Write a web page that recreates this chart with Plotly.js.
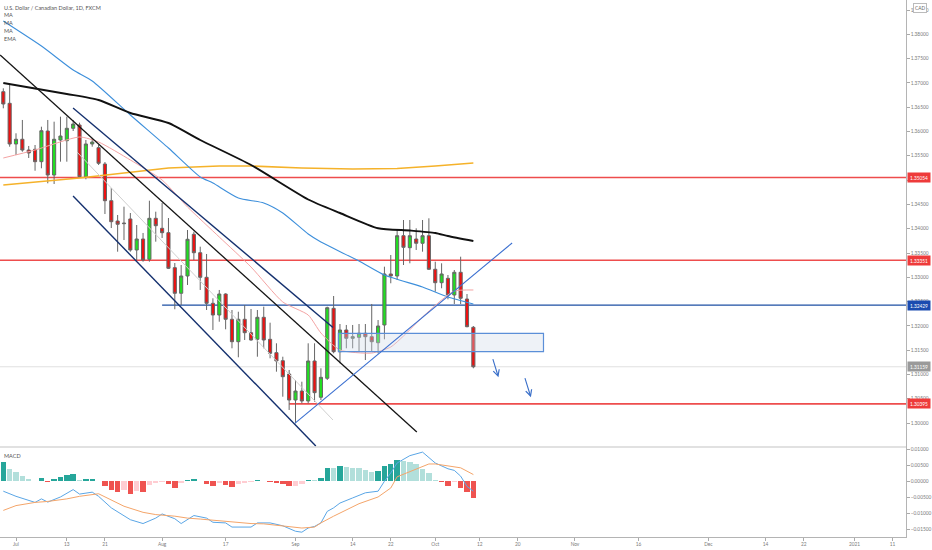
<!DOCTYPE html>
<html><head><meta charset="utf-8">
<script src="https://cdn.plot.ly/plotly-3.0.1.min.js"></script>
<style>html,body{margin:0;padding:0;background:#fff}#chart{width:932px;height:550px}</style>
</head><body><div id="chart"></div>
<script>
// ---- categories (trading days, bar 0 = 2020-06-29) ----
const dates = ['Jun 29','Jun 30','Jul 1','Jul 2','Jul 3','Jul 6','Jul 7','Jul 8','Jul 9','Jul 10','Jul 13','Jul 14','Jul 15','Jul 16','Jul 17','Jul 20','Jul 21','Jul 22','Jul 23','Jul 24','Jul 27','Jul 28','Jul 29','Jul 30','Jul 31','Aug 3','Aug 4','Aug 5','Aug 6','Aug 7','Aug 10','Aug 11','Aug 12','Aug 13','Aug 14','Aug 17','Aug 18','Aug 19','Aug 20','Aug 21','Aug 24','Aug 25','Aug 26','Aug 27','Aug 28','Aug 31','Sep 1','Sep 2','Sep 3','Sep 4','Sep 7','Sep 8','Sep 9','Sep 10','Sep 11','Sep 14','Sep 15','Sep 16','Sep 17','Sep 18','Sep 21','Sep 22','Sep 23','Sep 24','Sep 25','Sep 28','Sep 29','Sep 30','Oct 1','Oct 2','Oct 5','Oct 6','Oct 7','Oct 8','Oct 9'];

// ---- OHLC ----
const open  = [1.36819,1.36580,1.35743,1.35840,1.35619,1.35634,1.35379,1.36010,1.35105,1.35825,1.35811,1.36066,1.36134,1.35070,1.35743,1.35667,1.35331,1.34576,1.34158,1.34117,1.34200,1.33562,1.33788,1.33370,1.34214,1.34008,1.33918,1.33198,1.32671,1.33027,1.33885,1.33506,1.33000,1.32465,1.32224,1.32656,1.32136,1.31675,1.32136,1.31860,1.31724,1.32177,1.31724,1.31449,1.31284,1.31010,1.30475,1.30660,1.30455,1.31278,1.30531,1.30922,1.32362,1.31469,1.31916,1.31745,1.31765,1.31848,1.31778,1.31654,1.32019,1.33068,1.33027,1.33856,1.33609,1.33788,1.33700,1.33856,1.33165,1.32889,1.32979,1.32636,1.33103,1.32553,1.31971];
const high  = [1.36889,1.36957,1.35963,1.36237,1.35702,1.35722,1.36099,1.36237,1.36202,1.36305,1.36305,1.36237,1.36181,1.35825,1.35860,1.35722,1.35372,1.34837,1.34282,1.34453,1.34323,1.34076,1.33912,1.34576,1.34350,1.34529,1.34220,1.33294,1.33253,1.33973,1.33938,1.33630,1.33480,1.32568,1.32739,1.32671,1.32327,1.32292,1.32430,1.32348,1.32327,1.32395,1.32066,1.31642,1.31366,1.31093,1.30887,1.30852,1.31642,1.31642,1.31128,1.32395,1.32615,1.32039,1.32019,1.32019,1.32039,1.32039,1.32451,1.32121,1.33218,1.33459,1.33973,1.34179,1.34179,1.34008,1.34179,1.34214,1.33321,1.33288,1.33047,1.33150,1.33424,1.32656,1.31998];
const low   = [1.36477,1.35687,1.35516,1.35584,1.35455,1.35193,1.35243,1.34934,1.34920,1.35379,1.35379,1.36010,1.35058,1.35016,1.35687,1.35311,1.34302,1.34014,1.33527,1.33767,1.33527,1.33356,1.33321,1.33321,1.33733,1.33809,1.33170,1.32342,1.32430,1.32842,1.33356,1.32739,1.32327,1.31916,1.32086,1.31930,1.31539,1.31354,1.31710,1.31695,1.31366,1.31539,1.31333,1.31058,1.30543,1.30270,1.29996,1.30407,1.30407,1.30440,1.30475,1.30887,1.31436,1.31230,1.31539,1.31539,1.31469,1.31298,1.31469,1.31436,1.31724,1.32877,1.32944,1.33253,1.33288,1.33562,1.33527,1.33150,1.32704,1.32774,1.32547,1.32451,1.32451,1.31971,1.31128];
const close = [1.36566,1.35743,1.35840,1.35619,1.35558,1.35379,1.36016,1.35105,1.35840,1.35907,1.36066,1.36154,1.35070,1.35743,1.35784,1.35346,1.34576,1.34144,1.34091,1.34105,1.33562,1.33788,1.33356,1.34214,1.34062,1.33918,1.33185,1.32671,1.33027,1.33782,1.33506,1.33000,1.32465,1.32224,1.32656,1.32136,1.31675,1.32136,1.31860,1.31710,1.32177,1.31710,1.31436,1.31278,1.30955,1.30475,1.30660,1.30455,1.31278,1.30626,1.30942,1.32374,1.31469,1.31916,1.31745,1.31778,1.31848,1.31778,1.31675,1.31998,1.33068,1.33027,1.33856,1.33617,1.33856,1.33700,1.33856,1.33165,1.32889,1.33068,1.32636,1.33103,1.32568,1.31984,1.31159];

// ---- moving averages (sampled bar, value) ----
const maBlackBar = [0,10,15,20,26,31,39,48,53,59,64,68,70,74];
const maBlackVal = [1.36998,1.36772,1.36648,1.36381,1.36175,1.35825,1.35311,1.34601,1.34323,1.34010,1.33963,1.33912,1.33850,1.33747];
const maBlueBar = [0,6,11,14,20,26,31,33,37,41,44,48,50,56,60,66,70,74];
const maBlueVal = [1.38274,1.37759,1.37265,1.37039,1.36340,1.35660,1.35064,1.34940,1.34632,1.34529,1.34323,1.33891,1.33726,1.33335,1.33047,1.32800,1.32595,1.32451];
const maOrangeBar = [0,12,26,34,39,47,55,62,68,74];
const maOrangeVal = [1.34900,1.35043,1.35249,1.35290,1.35290,1.35249,1.35229,1.35239,1.35290,1.35352];
const emaBar = [0,5,12,15,20,25,29,34,39,44,48,50,53,58,61,63,66,69,71,74];
const emaVal = [1.35455,1.35619,1.35887,1.35784,1.35414,1.35002,1.34447,1.33829,1.33212,1.32492,1.32224,1.31854,1.31504,1.31442,1.31566,1.31792,1.32183,1.32533,1.32718,1.32739];

// ---- MACD ----
const macdHist = [0.0059,0.0039,0.0028,0.0016,0.0007,0.0002,0.0010,-0.0003,0.0006,0.0013,0.0020,0.0024,0.0005,0.0007,0.0008,0.0002,-0.0016,-0.0028,-0.0034,-0.0026,-0.0040,-0.0031,-0.0034,-0.0013,-0.0005,-0.0002,-0.0008,-0.0021,-0.0005,0.0003,0.0006,0.0001,-0.0008,-0.0016,-0.0005,-0.0013,-0.0019,-0.0008,-0.0005,-0.0002,0.0005,0.0002,-0.0002,-0.0005,-0.0008,-0.0016,-0.0014,-0.0010,0.0005,0.0003,0.0010,0.0042,0.0041,0.0047,0.0043,0.0041,0.0040,0.0036,0.0030,0.0031,0.0049,0.0053,0.0067,0.0064,0.0059,0.0054,0.0039,0.0025,0.0005,-0.0003,-0.0014,-0.0003,-0.0021,-0.0034,-0.0053];
const macdBar = [0,2,5,6,7,9,11,12,14,15,17,19,20,22,24,25,27,28,29,30,32,33,35,36,39,40,42,44,46,47,48,49,50,51,52,53,55,57,59,60,61,62,64,66,68,70,71,72,73,74];
const macdVal = [-0.0031,-0.0047,-0.0066,-0.0055,-0.0065,-0.0049,-0.0026,-0.0040,-0.0034,-0.0047,-0.0083,-0.0109,-0.0120,-0.0132,-0.0115,-0.0102,-0.0117,-0.0132,-0.0120,-0.0107,-0.0115,-0.0128,-0.0130,-0.0143,-0.0143,-0.0130,-0.0130,-0.0139,-0.0156,-0.0159,-0.0146,-0.0141,-0.0130,-0.0094,-0.0083,-0.0068,-0.0052,-0.0036,-0.0031,0.0000,0.0026,0.0057,0.0080,0.0091,0.0057,0.0039,0.0034,0.0016,-0.0016,-0.0031];
const signalBar = [0,2,5,7,10,12,15,17,19,22,24,27,29,31,34,36,39,41,44,47,49,50,52,54,56,59,61,62,65,67,68,70,72,74];
const signalVal = [-0.0091,-0.0076,-0.0066,-0.0063,-0.0055,-0.0047,-0.0039,-0.0059,-0.0078,-0.0097,-0.0104,-0.0109,-0.0115,-0.0118,-0.0123,-0.0128,-0.0132,-0.0133,-0.0139,-0.0146,-0.0143,-0.0130,-0.0109,-0.0089,-0.0070,-0.0049,-0.0021,0.0014,0.0039,0.0054,0.0054,0.0049,0.0042,0.0021];

// ---- time axis labels ----
const tickBar = [2,10,16,25,35,46,55,61,68,75,81,90,100,111,120,126,134,140];
const tickLabels = ['Jul','13','21','Aug','17','Sep','14','22','Oct','12','20','Nov','16','Dec','14','22','2021','11'];

// ---- drawings (bar, price) ----
const redLevels = [1.35054, 1.33351, 1.30395];
const redLevelStart = [null, null, 45];
const blueLevel = 1.32429, blueLevelStart = 25;
const lastPrice = 1.31159;
const blackTrend = {bar:[-0.5, 65.1], price:[1.37574, 1.29818]};
const chanUpper = {bar:[10.98, 51.9], price:[1.36484, 1.31969]};
const chanLower = {bar:[10.98, 49.2], price:[1.34673, 1.29529]};
const riseTrend = {bar:[45.94, 80.1], price:[1.30000, 1.33706]};
const grayLine = {bar:[11.6, 51.9], price:[1.35578, 1.30064]};
const zoneBars = [52.76, 85.04], zonePrices = [1.31469, 1.31848];
const arrowTail = {bar:[77.0, 82.05], price:[1.31346, 1.30955]};
const arrowHead = {bar:[77.95, 83.06], price:[1.30942, 1.30531]};

const bars = dates.map((d,i)=>i);
const XR = [-0.52, 142.11];
const PANE = 0.1676;

const histColors = macdHist.map((v,i)=>{
  const p = i>0 ? macdHist[i-1] : v+1e-9*(v>=0?-1:1);
  if (v >= 0) return v > p ? '#26a69a' : '#b2dfdb';
  return v < p ? '#ef5350' : '#ffcdd2';
});

const traces = [
  {type:'scatter', mode:'lines', x:maOrangeBar, y:maOrangeVal, line:{color:'#f5b22a', width:1.6}, hoverinfo:'skip'},
  {type:'scatter', mode:'lines', x:maBlueBar, y:maBlueVal, line:{color:'#3d8fdb', width:1.1, shape:'spline', smoothing:0.6}, hoverinfo:'skip'},
  {type:'scatter', mode:'lines', x:emaBar, y:emaVal, line:{color:'#f4a3a3', width:1, shape:'spline', smoothing:0.6}, hoverinfo:'skip'},
  {type:'scatter', mode:'lines', x:maBlackBar, y:maBlackVal, line:{color:'#111', width:1.9, shape:'spline', smoothing:0.6}, hoverinfo:'skip'},
  {type:'candlestick', x:bars, open:open, high:high, low:low, close:close,
   increasing:{line:{color:'#666', width:1}, fillcolor:'#20e020'},
   decreasing:{line:{color:'#666', width:1}, fillcolor:'#ee1111'},
   whiskerwidth:0, hoverinfo:'skip'},
  {type:'bar', x:bars, y:macdHist, xaxis:'x', yaxis:'y2', marker:{color:histColors, line:{width:0}}, width:0.85, hoverinfo:'skip'},
  {type:'scatter', mode:'lines', x:macdBar, y:macdVal, xaxis:'x', yaxis:'y2', line:{color:'#5aa6e6', width:1}, hoverinfo:'skip'},
  {type:'scatter', mode:'lines', x:signalBar, y:signalVal, xaxis:'x', yaxis:'y2', line:{color:'#f4a56a', width:1}, hoverinfo:'skip'}
];

const shapes = [];
redLevels.forEach((p,i)=>{
  shapes.push({type:'line', xref:'x', yref:'y', x0: redLevelStart[i]===null ? XR[0] : redLevelStart[i], x1: XR[1], y0:p, y1:p, line:{color:'#ee4d4d', width:1.6}, layer:'below'});
});
shapes.push({type:'line', xref:'x', yref:'y', x0:blueLevelStart, x1:XR[1], y0:blueLevel, y1:blueLevel, line:{color:'#1d4fa3', width:1.2}, layer:'below'});
shapes.push({type:'line', xref:'x', yref:'y', x0:XR[0], x1:XR[1], y0:lastPrice, y1:lastPrice, line:{color:'#e0e0e0', width:1}, layer:'below'});
shapes.push({type:'rect', xref:'x', yref:'y', x0:zoneBars[0], x1:zoneBars[1], y0:zonePrices[0], y1:zonePrices[1], fillcolor:'rgba(205,218,232,0.35)', line:{color:'#5b8fd8', width:1.2}, layer:'above'});
const seg = (o,color,w)=>shapes.push({type:'line', xref:'x', yref:'y', x0:o.bar[0], x1:o.bar[1], y0:o.price[0], y1:o.price[1], line:{color:color, width:w}});
seg(grayLine, '#cfcfcf', 1);
seg(blackTrend, '#151515', 1.3);
seg(chanUpper, '#14306e', 1.4);
seg(chanLower, '#14306e', 1.4);
seg(riseTrend, '#3a6fd0', 1.1);
// pane separator
shapes.push({type:'line', xref:'paper', yref:'paper', x0:0, x1:1, y0:PANE, y1:PANE, line:{color:'#c3c3c3', width:1.2}});

const F = 'Lato, "Open Sans", sans-serif';
const ann = [];
const priceTag = (p, bg)=>ann.push({xref:'paper', yref:'y', x:1, y:p, xanchor:'left', yanchor:'middle', xshift:1, text:p.toFixed(5), showarrow:false, bgcolor:bg, font:{family:F, size:4.8, color:'#fff'}, borderpad:1.5, width:19});
priceTag(redLevels[0], '#ee3b3b');
priceTag(redLevels[1], '#ee3b3b');
priceTag(blueLevel, '#1a4bb0');
priceTag(lastPrice, '#9a9a9a');
priceTag(redLevels[2], '#ee3b3b');
ann.push({xref:'paper', yref:'paper', x:1, y:1, xanchor:'left', yanchor:'top', xshift:7, yshift:-3, text:'CAD', showarrow:false, font:{family:F, size:4.8, color:'#666'}, bgcolor:'#fff', bordercolor:'#bbb', borderwidth:1, borderpad:1});
const legendLines = ['U.S. Dollar / Canadian Dollar, 1D, FXCM','MA','MA','MA','EMA'];
legendLines.forEach((t,i)=>ann.push({xref:'paper', yref:'paper', x:0, y:1, xanchor:'left', yanchor:'top', xshift:2, yshift:-2.5 - i*7.8, text:t, showarrow:false, font:{family:F, size:5.5, color:'#555'}}));
ann.push({xref:'paper', yref:'paper', x:0, y:PANE, xanchor:'left', yanchor:'top', xshift:2, yshift:-4.5, text:'MACD', showarrow:false, font:{family:F, size:5.5, color:'#555'}});
arrowTail.bar.forEach((b,i)=>ann.push({xref:'x', yref:'y', axref:'x', ayref:'y', x:arrowHead.bar[i], y:arrowHead.price[i], ax:b, ay:arrowTail.price[i], text:'', showarrow:true, arrowhead:5, arrowsize:1.1, arrowwidth:1.1, arrowcolor:'#3a6fc9'}));

const axisFont = {family:F, size:4.8, color:'#7a7a7a'};
const layout = {
  width:932, height:550,
  margin:{l:0, r:26, t:0, b:13, pad:0},
  paper_bgcolor:'#fff', plot_bgcolor:'#fff',
  showlegend:false, hovermode:false, bargap:0,
  xaxis:{range:XR, anchor:'y2', tickvals:tickBar, ticktext:tickLabels, tickfont:axisFont, ticks:'outside', ticklen:2.5, tickcolor:'#aaa',
         showline:true, linecolor:'#b4b4b4', linewidth:1.2, showgrid:false, zeroline:false, rangeslider:{visible:false}, fixedrange:true},
  yaxis:{domain:[PANE,1], range:[1.295082, 1.387058], side:'right', dtick:0.005, tick0:1.295, tickformat:'.5f', tickfont:axisFont,
         ticks:'outside', ticklen:2.5, tickcolor:'#aaa', showline:true, linecolor:'#b4b4b4', linewidth:1.2, showgrid:false, zeroline:false},
  yaxis2:{domain:[0,PANE], range:[-0.0174, 0.0107], side:'right', anchor:'x', dtick:0.005, tick0:0, tickformat:'.5f', tickfont:axisFont,
          ticks:'outside', ticklen:2.5, tickcolor:'#aaa', showline:true, linecolor:'#b4b4b4', linewidth:1.2, showgrid:false, zeroline:false},
  shapes:shapes, annotations:ann
};
Plotly.newPlot('chart', traces, layout, {staticPlot:true, displayModeBar:false});
</script>
</body></html>
